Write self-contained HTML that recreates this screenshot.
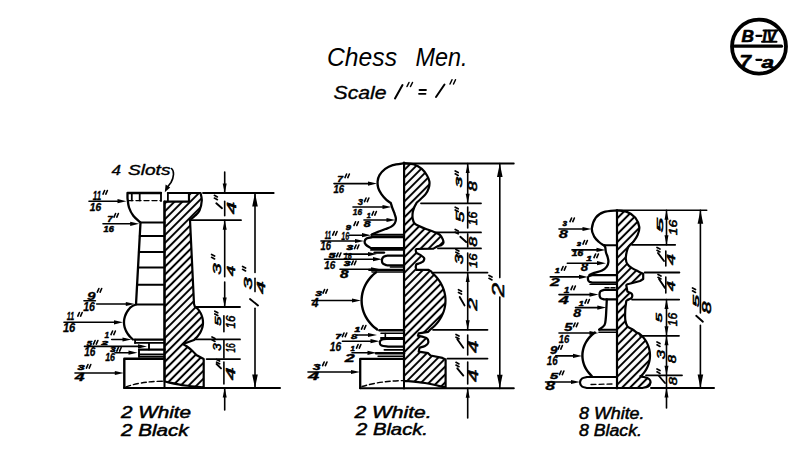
<!DOCTYPE html><html><head><meta charset="utf-8"><style>
html,body{margin:0;padding:0;background:#fff;width:800px;height:475px;overflow:hidden}
svg{display:block}
.t{font-family:"Liberation Sans",sans-serif;font-style:italic;font-weight:bold;fill:#000;stroke:#000;stroke-width:0.6}
.f{font-family:"Liberation Sans",sans-serif;font-style:italic;font-weight:bold;fill:#000;stroke:#000;stroke-width:0.25}
.fv{font-family:"Liberation Sans",sans-serif;font-style:italic;font-weight:normal;fill:#000;stroke:#000;stroke-width:0.55}
.ts{font-family:"Liberation Sans",sans-serif;font-style:italic;font-weight:normal;fill:#000;stroke:#000;stroke-width:0.35}
.ti{font-family:"Liberation Sans",sans-serif;font-style:italic;font-weight:normal;fill:#000;stroke:none}
.tl{font-family:"Liberation Sans",sans-serif;font-style:italic;font-weight:normal;fill:#000;stroke:#000;stroke-width:0.5}
</style></head><body>
<svg width="800" height="475" viewBox="0 0 800 475">
<defs><pattern id="h" patternUnits="userSpaceOnUse" width="5.6" height="5.6" patternTransform="rotate(-45)"><line x1="0" y1="2.8" x2="5.6" y2="2.8" stroke="#000" stroke-width="2.0"/></pattern></defs>
<rect width="800" height="475" fill="#fff"/>
<g stroke="#000" fill="none" stroke-linecap="round" stroke-linejoin="round">
<text class="ti" x="327" y="66" font-size="26.5" textLength="70" lengthAdjust="spacingAndGlyphs">Chess</text>
<text class="ti" x="415.5" y="66" font-size="26.5" textLength="52" lengthAdjust="spacingAndGlyphs">Men.</text>
<text class="ts" x="333.5" y="98.5" font-size="18.6" textLength="53" lengthAdjust="spacingAndGlyphs">Scale</text>
<line x1="402.5" y1="85" x2="395" y2="98.5" stroke-width="2"/>
<line x1="407" y1="86.5" x2="409" y2="82.5" stroke-width="1.5"/>
<line x1="410.5" y1="86.5" x2="412.5" y2="82.5" stroke-width="1.5"/>
<line x1="419.5" y1="90" x2="426" y2="90" stroke-width="1.8"/>
<line x1="419" y1="93.8" x2="425.5" y2="93.8" stroke-width="1.8"/>
<line x1="444.5" y1="84.5" x2="436" y2="97" stroke-width="2"/>
<line x1="450" y1="84" x2="452" y2="79.8" stroke-width="1.5"/>
<line x1="453.5" y1="84" x2="455.5" y2="79.8" stroke-width="1.5"/>
<ellipse cx="759" cy="46.6" rx="27" ry="27" stroke-width="3.8"/>
<line x1="734.5" y1="46.2" x2="781.5" y2="46.2" stroke-width="3.2"/>
<text class="t" x="741.5" y="42" font-size="16.2" textLength="12.5" lengthAdjust="spacingAndGlyphs">B</text>
<line x1="756.4" y1="35.8" x2="761.4" y2="35.8" stroke-width="2.2"/>
<text class="t" x="762.5" y="42" font-size="16" textLength="14" lengthAdjust="spacingAndGlyphs">IV</text>
<line x1="763.5" y1="30.6" x2="777.5" y2="30.6" stroke-width="2"/>
<line x1="762" y1="41.8" x2="776.5" y2="41.8" stroke-width="2"/>
<text class="t" x="739.5" y="68" font-size="19" textLength="11.5" lengthAdjust="spacingAndGlyphs">7</text>
<line x1="756.4" y1="59.8" x2="761.4" y2="59.8" stroke-width="2.2"/>
<text class="t" x="761.5" y="67.5" font-size="16" textLength="12.5" lengthAdjust="spacingAndGlyphs">a</text>
<path d="M164.5,201.6 L189,201.6 L189,193 L200.5,193 C200.72,194.25 201.97,197.58 201.8,200.5 C201.63,203.42 200.63,207.95 199.5,210.5 C198.37,213.05 196.58,214.25 195,215.8 C193.42,217.35 190.83,219.13 190,219.8 L194,304 L195,307 C196.38,307.4 197.52,308.59 198.18,309.42 C198.84,310.25 199.43,311.11 199.96,311.99 C200.49,312.86 200.95,313.76 201.35,314.67 C201.74,315.58 202.06,316.51 202.32,317.44 C202.57,318.37 202.76,319.32 202.87,320.27 C202.98,321.21 203.02,322.17 202.99,323.12 C202.96,324.07 202.86,325.02 202.68,325.97 C202.51,326.91 202.26,327.85 201.95,328.77 C201.63,329.7 201.25,330.61 200.79,331.51 C200.34,332.41 199.82,333.29 199.23,334.15 C198.65,335 198,335.84 197.29,336.65 C196.58,337.46 195.36,338.61 194.97,339 L194,340 L183,344 C183.67,344.42 185.42,345.33 187,346.5 C188.58,347.67 190.95,349.58 192.5,351 C194.05,352.42 195.67,354.33 196.3,355 L203.7,359 L203.7,387.3 C200.58,387 191.53,386.47 185,385.5 C178.47,384.53 167.92,382.17 164.5,381.5 Z" fill="url(#h)" stroke-width="2.2"/>
<line x1="167.9" y1="193" x2="167.9" y2="201.6" stroke-width="1.8"/>
<line x1="167.9" y1="193" x2="189" y2="193" stroke-width="2.2"/>
<line x1="164.5" y1="201.6" x2="164.5" y2="388" stroke-width="2"/>
<path d="M161,193 L127.5,193 L127.5,198 C127.75,199.58 128,204.5 129,207.5 C130,210.5 131.58,213.5 133.5,216 C135.42,218.5 139.33,221.42 140.5,222.5 L136,304.5 C132.57,305.42 131.16,306.65 130.35,307.52 C129.53,308.39 128.78,309.3 128.11,310.23 C127.44,311.16 126.85,312.12 126.34,313.09 C125.83,314.07 125.4,315.07 125.05,316.07 C124.71,317.08 124.44,318.11 124.27,319.14 C124.09,320.16 124,321.2 124,322.24 C124,323.27 124.08,324.31 124.25,325.34 C124.42,326.36 124.67,327.39 125.01,328.4 C125.35,329.41 125.77,330.41 126.27,331.39 C126.78,332.36 127.36,333.32 128.03,334.25 C128.69,335.18 129.43,336.1 130.24,336.97 C131.06,337.84 132.46,339.08 132.9,339.5" fill="none" stroke-width="2.3"/>
<line x1="161" y1="193" x2="161" y2="201" stroke-width="1.8"/>
<line x1="131.8" y1="193" x2="131.8" y2="200.4" stroke-width="1.8"/>
<line x1="139.7" y1="193" x2="139.7" y2="200.4" stroke-width="1.8"/>
<line x1="128" y1="200.6" x2="161" y2="200.6" stroke-width="1.4" stroke-dasharray="5 3"/>
<line x1="140.5" y1="222.5" x2="164.5" y2="222.5" stroke-width="2"/>
<line x1="139.76" y1="236" x2="164.5" y2="236" stroke-width="2"/>
<line x1="138.88" y1="252" x2="164.5" y2="252" stroke-width="2"/>
<line x1="138.04" y1="267.4" x2="164.5" y2="267.4" stroke-width="2"/>
<line x1="137.08" y1="284.8" x2="164.5" y2="284.8" stroke-width="2"/>
<line x1="136" y1="304.5" x2="164.5" y2="304.5" stroke-width="2"/>
<line x1="134.5" y1="339.6" x2="164.5" y2="339.6" stroke-width="2.3"/>
<line x1="135" y1="342.9" x2="164.5" y2="342.9" stroke-width="1.8"/>
<line x1="135.1" y1="339.6" x2="135.1" y2="342.9" stroke-width="1.8"/>
<line x1="149" y1="342.9" x2="149" y2="349.6" stroke-width="1.9"/>
<line x1="139" y1="349.6" x2="164.5" y2="349.6" stroke-width="2.1"/>
<line x1="139" y1="349.6" x2="139" y2="357" stroke-width="1.9"/>
<line x1="140" y1="354.4" x2="164.5" y2="354.4" stroke-width="1.7"/>
<line x1="140" y1="356.6" x2="164.5" y2="356.6" stroke-width="1.7"/>
<path d="M164.5,358.8 L124.3,358.8 L124.3,387.5" fill="none" stroke-width="2.4"/>
<path d="M126,386.8 Q142,381.2 164.5,381.2" fill="none" stroke-width="1.4" stroke-dasharray="5 3"/>
<line x1="124" y1="388" x2="280" y2="388" stroke-width="2"/>
<line x1="203" y1="193" x2="273.7" y2="193" stroke-width="1.8"/>
<line x1="190" y1="220.2" x2="241" y2="220.2" stroke-width="1.8"/>
<line x1="196" y1="307" x2="240" y2="307" stroke-width="1.8"/>
<line x1="195" y1="339.4" x2="240" y2="339.4" stroke-width="1.8"/>
<line x1="206.6" y1="359.1" x2="240" y2="359.1" stroke-width="1.8"/>
<line x1="224.7" y1="172" x2="224.7" y2="193" stroke-width="1.6"/>
<path d="M224.7,193 L222.7,183.5 L226.7,183.5 Z" fill="#000" stroke="none"/>
<line x1="224.7" y1="201.4" x2="224.7" y2="215.8" stroke-width="1.6"/>
<line x1="224.7" y1="220.2" x2="224.7" y2="276.8" stroke-width="1.6"/>
<path d="M224.7,220.2 L222.7,229.7 L226.7,229.7 Z" fill="#000" stroke="none"/>
<line x1="224.7" y1="282" x2="224.7" y2="307" stroke-width="1.6"/>
<path d="M224.7,307 L222.7,297.5 L226.7,297.5 Z" fill="#000" stroke="none"/>
<line x1="223.9" y1="315.7" x2="223.9" y2="331.8" stroke-width="1.6"/>
<line x1="223.9" y1="340" x2="223.9" y2="358" stroke-width="1.6"/>
<line x1="223.9" y1="362" x2="223.9" y2="384" stroke-width="1.6"/>
<line x1="224.7" y1="388" x2="224.7" y2="410" stroke-width="1.6"/>
<path d="M224.7,388 L222.7,397.5 L226.7,397.5 Z" fill="#000" stroke="none"/>
<line x1="216.3" y1="203.3" x2="222" y2="208.2" stroke-width="1.9"/>
<path d="M214.4,195.3 L217.4,196.9 M214.4,198.1 L217.4,199.7" stroke-width="1.7"/>
<text class="fv" transform="translate(235.7,214.24) rotate(-90)" x="0" y="0" font-size="12" textLength="12.36" lengthAdjust="spacingAndGlyphs">4</text>
<text class="fv" transform="translate(221.2,274.83) rotate(-90)" x="0" y="0" font-size="11.57" textLength="11.35" lengthAdjust="spacingAndGlyphs">3</text>
<path d="M211.6,254.5 L214.6,256.1 M211.6,257.3 L214.6,258.9" stroke-width="1.7"/>
<text class="fv" transform="translate(234.5,276.33) rotate(-90)" x="0" y="0" font-size="11.57" textLength="10.65" lengthAdjust="spacingAndGlyphs">4</text>
<text class="fv" transform="translate(221.1,325.68) rotate(-90)" x="0" y="0" font-size="9" textLength="9.17" lengthAdjust="spacingAndGlyphs">5</text>
<path d="M214.8,311.2 L217.8,312.8 M214.8,314 L217.8,315.6" stroke-width="1.7"/>
<text class="fv" transform="translate(234.5,328.46) rotate(-90)" x="0" y="0" font-size="12.86" textLength="12.89" lengthAdjust="spacingAndGlyphs">16</text>
<text class="fv" transform="translate(221,350.7) rotate(-90)" x="0" y="0" font-size="10.14" textLength="7.4" lengthAdjust="spacingAndGlyphs">3</text>
<path d="M212,337 L215,338.6 M212,339.8 L215,341.4" stroke-width="1.7"/>
<text class="fv" transform="translate(234.5,352.56) rotate(-90)" x="0" y="0" font-size="12.86" textLength="9.29" lengthAdjust="spacingAndGlyphs">16</text>
<line x1="216.6" y1="364" x2="221" y2="368.4" stroke-width="1.9"/>
<path d="M216.6,359.4 L219.6,361 M216.6,362.2 L219.6,363.8" stroke-width="1.7"/>
<text class="fv" transform="translate(234.5,380.26) rotate(-90)" x="0" y="0" font-size="12.86" textLength="12.89" lengthAdjust="spacingAndGlyphs">4</text>
<line x1="255" y1="193" x2="255" y2="272.4" stroke-width="1.6"/>
<path d="M255,193 L252.2,206.5 L257.8,206.5 Z" fill="#000" stroke="none"/>
<line x1="255" y1="278.3" x2="255" y2="291.6" stroke-width="1.6"/>
<line x1="255" y1="308.3" x2="255" y2="388" stroke-width="1.6"/>
<path d="M255,388 L252.2,374.5 L257.8,374.5 Z" fill="#000" stroke="none"/>
<path d="M242.6,266.5 L245.6,268.1 M242.6,269.3 L245.6,270.9" stroke-width="1.7"/>
<text class="fv" transform="translate(252.2,289.61) rotate(-90)" x="0" y="0" font-size="10.57" textLength="12.12" lengthAdjust="spacingAndGlyphs">3</text>
<text class="fv" transform="translate(265.4,294.03) rotate(-90)" x="0" y="0" font-size="11.57" textLength="12.85" lengthAdjust="spacingAndGlyphs">4</text>
<line x1="250" y1="299" x2="258" y2="305.5" stroke-width="1.9"/>
<text class="f" x="92.75" y="200" font-size="12.43" textLength="8.37" lengthAdjust="spacingAndGlyphs" style="stroke-width:0.3">11</text>
<text class="f" x="89.79" y="210.8" font-size="10.43" textLength="11.31" lengthAdjust="spacingAndGlyphs" style="stroke-width:0.37">16</text>
<path d="M103,194.1 L104.6,190.5 M105.8,194.1 L107.4,190.5" stroke-width="1.6"/>
<line x1="89" y1="201.2" x2="120.5" y2="201.2" stroke-width="1.6"/>
<path d="M126.5,201.2 L117.5,199.1 L117.5,203.3 Z" fill="#000" stroke="none"/>
<text class="f" x="107.22" y="221.8" font-size="9" textLength="5.47" lengthAdjust="spacingAndGlyphs" style="stroke-width:0.46">7</text>
<text class="f" x="103.53" y="231.8" font-size="8.29" textLength="10.25" lengthAdjust="spacingAndGlyphs" style="stroke-width:0.5">16</text>
<path d="M114,217.1 L115.6,213.5 M116.8,217.1 L118.4,213.5" stroke-width="1.6"/>
<line x1="103" y1="223.8" x2="133.2" y2="223.8" stroke-width="1.6"/>
<path d="M139.2,223.8 L130.2,221.7 L130.2,225.9 Z" fill="#000" stroke="none"/>
<text class="f" x="86.97" y="299.5" font-size="11.71" textLength="8.55" lengthAdjust="spacingAndGlyphs" style="stroke-width:0.3">9</text>
<text class="f" x="83.14" y="311" font-size="12.86" textLength="11.79" lengthAdjust="spacingAndGlyphs" style="stroke-width:0.3">16</text>
<path d="M97.3,292.1 L98.9,288.5 M100.1,292.1 L101.7,288.5" stroke-width="1.6"/>
<line x1="96.7" y1="304" x2="128.8" y2="304" stroke-width="1.6"/>
<path d="M134.8,304 L125.8,301.9 L125.8,306.1 Z" fill="#000" stroke="none"/>
<line x1="84" y1="300.8" x2="95.4" y2="300.8" stroke-width="1.6"/>
<text class="f" x="66.78" y="319.8" font-size="10.86" textLength="7.33" lengthAdjust="spacingAndGlyphs" style="stroke-width:0.35">11</text>
<text class="f" x="62.95" y="331.8" font-size="12.57" textLength="12.38" lengthAdjust="spacingAndGlyphs" style="stroke-width:0.3">16</text>
<path d="M77.8,316.1 L79.4,312.5 M80.6,316.1 L82.2,312.5" stroke-width="1.6"/>
<line x1="64" y1="322.3" x2="117" y2="322.3" stroke-width="1.6"/>
<path d="M123,322.3 L114,320.2 L114,324.4 Z" fill="#000" stroke="none"/>
<text class="f" x="104.62" y="337.6" font-size="9" textLength="4.67" lengthAdjust="spacingAndGlyphs" style="stroke-width:0.46">1</text>
<text class="f" x="101.48" y="344.8" font-size="6.14" textLength="6.48" lengthAdjust="spacingAndGlyphs" style="stroke-width:0.63">2</text>
<path d="M111,334.6 L112.6,331 M113.8,334.6 L115.4,331" stroke-width="1.6"/>
<line x1="111.7" y1="339.5" x2="125.5" y2="339.5" stroke-width="1.6"/>
<path d="M131.5,339.5 L122.5,337.4 L122.5,341.6 Z" fill="#000" stroke="none"/>
<text class="f" x="86.85" y="345.8" font-size="7.29" textLength="5.22" lengthAdjust="spacingAndGlyphs" style="stroke-width:0.56">5</text>
<text class="f" x="84.26" y="356" font-size="11.86" textLength="11.16" lengthAdjust="spacingAndGlyphs" style="stroke-width:0.3">16</text>
<path d="M93.5,344.1 L95.1,340.5 M96.3,344.1 L97.9,340.5" stroke-width="1.6"/>
<line x1="84.5" y1="346.4" x2="141" y2="346.4" stroke-width="1.6"/>
<path d="M147,346.4 L138,344.3 L138,348.5 Z" fill="#000" stroke="none"/>
<text class="f" x="110.27" y="352.1" font-size="6.29" textLength="5.29" lengthAdjust="spacingAndGlyphs" style="stroke-width:0.62">3</text>
<text class="f" x="105.18" y="361" font-size="10.86" textLength="9.83" lengthAdjust="spacingAndGlyphs" style="stroke-width:0.35">16</text>
<path d="M116.8,351.1 L118.4,347.5 M119.6,351.1 L121.2,347.5" stroke-width="1.6"/>
<line x1="114.9" y1="352.7" x2="131.5" y2="352.7" stroke-width="1.6"/>
<path d="M137.5,352.7 L128.5,350.6 L128.5,354.8 Z" fill="#000" stroke="none"/>
<text class="f" x="77.46" y="370.4" font-size="7.14" textLength="7.11" lengthAdjust="spacingAndGlyphs" style="stroke-width:0.57">3</text>
<text class="f" x="74.78" y="380.6" font-size="10.86" textLength="9.83" lengthAdjust="spacingAndGlyphs" style="stroke-width:0.35">4</text>
<path d="M86.4,368.1 L88,364.5 M89.2,368.1 L90.8,364.5" stroke-width="1.6"/>
<line x1="75" y1="373" x2="117.8" y2="373" stroke-width="1.6"/>
<path d="M123.8,373 L114.8,370.9 L114.8,375.1 Z" fill="#000" stroke="none"/>
<text class="ts" x="111.5" y="175.3" font-size="14.5" textLength="9.5" lengthAdjust="spacingAndGlyphs">4</text>
<text class="ts" x="128" y="175.3" font-size="14.5" textLength="42.5" lengthAdjust="spacingAndGlyphs">Slots</text>
<path d="M171.5,168.5 C174.5,171 174,177 171,182.5 L167.5,187" fill="none" stroke-width="1.6"/>
<path d="M164.8,192.2 L165.6,184.6 L170.2,187.6 Z" fill="#000" stroke="none"/>
<text class="tl" x="121" y="418" font-size="16" textLength="70" lengthAdjust="spacingAndGlyphs">2 White</text>
<text class="tl" x="121" y="435.5" font-size="16" textLength="67.5" lengthAdjust="spacingAndGlyphs">2 Black</text>
<path d="M404.1,163.2 C405.78,163.42 411.25,163.55 414.2,164.5 C417.15,165.45 419.68,167.12 421.8,168.9 C423.92,170.68 425.63,173.1 426.9,175.2 C428.17,177.3 429.08,179.38 429.4,181.5 C429.72,183.62 429.43,185.78 428.8,187.9 C428.17,190.02 426.98,192.32 425.6,194.2 C424.22,196.08 421.97,197.82 420.5,199.2 C419.03,200.58 417.42,201.95 416.8,202.5 C416.4,203.25 415.08,205.3 414.4,207 C413.72,208.7 412.98,210.78 412.7,212.7 C412.42,214.62 412.42,216.75 412.7,218.5 C412.98,220.25 413.35,221.95 414.4,223.2 C415.45,224.45 417.07,225.03 419,226 C420.93,226.97 423.48,228.02 426,229 C428.52,229.98 431.78,230.93 434.1,231.9 C436.42,232.87 438.45,233.55 439.9,234.8 C441.35,236.05 442.22,238.05 442.8,239.4 C443.38,240.75 443.68,241.93 443.4,242.9 C443.12,243.87 442.07,244.63 441.1,245.2 C440.13,245.77 438.87,245.73 437.6,246.3 C436.33,246.87 434.18,248.22 433.5,248.6 L416.3,249 L415.7,250.1 L416.3,252.9 C417.03,253.28 419.4,254.35 420.7,255.2 C422,256.05 423.62,257.07 424.1,258 C424.58,258.93 424.07,260.05 423.6,260.8 C423.13,261.55 422.15,262.03 421.3,262.5 C420.45,262.97 419.33,263.32 418.5,263.6 C417.67,263.88 416.67,264.1 416.3,264.2 L415.7,267 L416.3,269.8 L428.6,269.8 L431.5,271.7 C431.31,272.34 433.6,274.16 434.95,275.52 C436.3,276.88 437.55,278.35 438.66,279.87 C439.77,281.4 440.77,283.02 441.62,284.67 C442.47,286.33 443.2,288.06 443.78,289.81 C444.35,291.56 444.79,293.37 445.08,295.18 C445.37,296.98 445.51,298.83 445.5,300.66 C445.49,302.48 445.33,304.33 445.03,306.13 C444.73,307.94 444.27,309.75 443.68,311.49 C443.08,313.24 442.34,314.96 441.47,316.61 C440.61,318.26 439.59,319.87 438.47,321.39 C437.34,322.9 436.08,324.36 434.72,325.71 C433.36,327.07 431.05,328.87 430.31,329.5 L428.2,331.8 L418.7,333.4 L417.9,335.8 C419.35,336.2 424.88,337.02 426.6,338.2 C428.32,339.38 428.47,341.6 428.2,342.9 C427.93,344.2 426.45,345.22 425,346 C423.55,346.78 420.42,347.33 419.5,347.6 L418.7,351.6 L428.2,353.2 L430.5,355.5 L442.4,357.9 L445.6,359.5 L445.6,387.5 C442.17,386.75 431.93,384.12 425,383 C418.07,381.88 407.5,381.17 404,380.8 Z" fill="url(#h)" stroke-width="2.2"/>
<line x1="404" y1="162.5" x2="404" y2="388.5" stroke-width="2"/>
<path d="M404.1,163.2 C402.2,163.52 395.85,164.15 392.7,165.1 C389.55,166.05 387.4,167.22 385.2,168.9 C383,170.58 380.77,173.1 379.5,175.2 C378.23,177.3 377.82,179.38 377.6,181.5 C377.38,183.62 377.57,185.78 378.2,187.9 C378.83,190.02 380.03,192.2 381.4,194.2 C382.77,196.2 384.83,198.43 386.4,199.9 C387.97,201.37 390.07,202.48 390.8,203 C391.07,203.85 391.83,206.48 392.4,208.1 C392.97,209.72 393.62,210.97 394.2,212.7 C394.78,214.43 395.8,216.75 395.9,218.5 C396,220.25 395.57,221.85 394.8,223.2 C394.03,224.55 392.85,225.63 391.3,226.6 C389.75,227.57 387.43,228.22 385.5,229 C383.57,229.78 381.63,230.53 379.7,231.3 C377.77,232.07 375.25,233.02 373.9,233.6 C372.55,234.18 371.98,234.6 371.6,234.8" fill="none" stroke-width="2.3"/>
<line x1="371.6" y1="234.8" x2="404" y2="234.8" stroke-width="2"/>
<path d="M404,237 L373,237 C371.92,237.25 367.9,237.72 366.5,238.5 C365.1,239.28 364.72,240.68 364.6,241.7 C364.48,242.72 364.83,243.58 365.8,244.6 C366.77,245.62 369.63,247.27 370.4,247.8 L404,248.2" fill="none" stroke-width="2.3"/>
<line x1="371" y1="249.9" x2="404" y2="249.9" stroke-width="1.8"/>
<line x1="374.6" y1="252.6" x2="384" y2="252.6" stroke-width="2.4"/>
<path d="M404,255.7 L387,255.7 C386.33,255.97 383.85,256.5 383,257.3 C382.15,258.1 381.9,259.43 381.9,260.5 C381.9,261.57 382.15,262.9 383,263.7 C383.85,264.5 386.33,265.03 387,265.3 L404,265.3" fill="none" stroke-width="2.3"/>
<line x1="390.4" y1="267" x2="404" y2="267" stroke-width="1.6"/>
<line x1="369" y1="269.8" x2="404" y2="269.8" stroke-width="2.2"/>
<line x1="372" y1="272" x2="404" y2="272" stroke-width="1.4"/>
<path d="M376.05,272.3 C375.33,272.94 373.07,274.79 371.75,276.16 C370.43,277.53 369.2,279 368.12,280.52 C367.03,282.04 366.06,283.65 365.24,285.3 C364.41,286.95 363.72,288.67 363.17,290.4 C362.62,292.13 362.21,293.92 361.95,295.71 C361.69,297.5 361.57,299.32 361.61,301.12 C361.64,302.92 361.82,304.74 362.15,306.51 C362.48,308.29 362.95,310.07 363.57,311.79 C364.18,313.5 364.94,315.2 365.83,316.82 C366.71,318.44 367.74,320.02 368.88,321.52 C370.03,323.01 371.3,324.44 372.67,325.77 C374.05,327.1 376.38,328.88 377.12,329.5" fill="none" stroke-width="2.4"/>
<line x1="379.4" y1="330.2" x2="404" y2="330.2" stroke-width="2.4"/>
<line x1="381" y1="333.2" x2="404" y2="333.2" stroke-width="1.6"/>
<line x1="385.3" y1="333.5" x2="385.3" y2="338" stroke-width="1.6"/>
<line x1="381" y1="338" x2="404" y2="338" stroke-width="2"/>
<path d="M404,338.8 L388,338.8 C386.92,338.97 382.87,339.15 381.5,339.8 C380.13,340.45 379.8,341.73 379.8,342.7 C379.8,343.67 380.13,344.95 381.5,345.6 C382.87,346.25 386.92,346.43 388,346.6 L404,346.6" fill="none" stroke-width="2.2"/>
<line x1="384.4" y1="349.8" x2="404" y2="349.8" stroke-width="1.8"/>
<line x1="376" y1="353.3" x2="404" y2="353.3" stroke-width="2.4"/>
<line x1="378" y1="356.2" x2="404" y2="356.2" stroke-width="1.4"/>
<path d="M404,358.9 L360.2,358.9 L360.2,388" fill="none" stroke-width="2.3"/>
<path d="M362,386.5 Q380,381 404,380.6" fill="none" stroke-width="1.4" stroke-dasharray="5 3"/>
<line x1="360" y1="388.2" x2="513.8" y2="388.2" stroke-width="2"/>
<line x1="404" y1="163.5" x2="513.8" y2="163.5" stroke-width="1.8"/>
<line x1="421" y1="203.3" x2="481" y2="203.3" stroke-width="1.8"/>
<line x1="437" y1="232.4" x2="481" y2="232.4" stroke-width="1.8"/>
<line x1="438" y1="248.4" x2="481" y2="248.4" stroke-width="1.8"/>
<line x1="433.3" y1="272.6" x2="487.5" y2="272.6" stroke-width="1.8"/>
<line x1="433" y1="329.8" x2="487.5" y2="329.8" stroke-width="1.8"/>
<line x1="447.4" y1="358.6" x2="487.5" y2="358.6" stroke-width="1.8"/>
<line x1="467.7" y1="163.5" x2="467.7" y2="203.3" stroke-width="1.6"/>
<path d="M467.7,163.5 L465.7,173 L469.7,173 Z" fill="#000" stroke="none"/>
<path d="M467.7,203.3 L465.7,193.8 L469.7,193.8 Z" fill="#000" stroke="none"/>
<line x1="467.7" y1="207" x2="467.7" y2="228" stroke-width="1.6"/>
<line x1="467.7" y1="233.9" x2="467.7" y2="247.1" stroke-width="1.6"/>
<line x1="467.7" y1="253" x2="467.7" y2="270.8" stroke-width="1.6"/>
<line x1="467.7" y1="272.6" x2="467.7" y2="329.8" stroke-width="1.6"/>
<path d="M467.7,272.6 L465.7,282.1 L469.7,282.1 Z" fill="#000" stroke="none"/>
<path d="M467.7,329.8 L465.7,320.3 L469.7,320.3 Z" fill="#000" stroke="none"/>
<line x1="467.7" y1="335" x2="467.7" y2="355" stroke-width="1.6"/>
<line x1="467.7" y1="362" x2="467.7" y2="384" stroke-width="1.6"/>
<line x1="467.7" y1="388.2" x2="467.7" y2="418" stroke-width="1.6"/>
<path d="M467.7,388.2 L465.7,397.7 L469.7,397.7 Z" fill="#000" stroke="none"/>
<text class="fv" transform="translate(461.8,187.47) rotate(-90)" x="0" y="0" font-size="8.43" textLength="10.55" lengthAdjust="spacingAndGlyphs">3</text>
<path d="M455.2,171 L458.2,172.6 M455.2,173.8 L458.2,175.4" stroke-width="1.7"/>
<text class="fv" transform="translate(477.3,191.25) rotate(-90)" x="0" y="0" font-size="12.57" textLength="9.98" lengthAdjust="spacingAndGlyphs">8</text>
<text class="fv" transform="translate(464,222.21) rotate(-90)" x="0" y="0" font-size="10.57" textLength="10.62" lengthAdjust="spacingAndGlyphs">5</text>
<path d="M455.2,207.2 L458.2,208.8 M455.2,210 L458.2,211.6" stroke-width="1.7"/>
<text class="fv" transform="translate(477.3,225.24) rotate(-90)" x="0" y="0" font-size="11.86" textLength="13.66" lengthAdjust="spacingAndGlyphs">16</text>
<line x1="460.3" y1="236.8" x2="466.2" y2="242" stroke-width="1.9"/>
<path d="M455.2,229.4 L458.2,231 M455.2,232.2 L458.2,233.8" stroke-width="1.7"/>
<text class="fv" transform="translate(477.3,246.63) rotate(-90)" x="0" y="0" font-size="11.57" textLength="9.95" lengthAdjust="spacingAndGlyphs">8</text>
<text class="fv" transform="translate(463.3,264.31) rotate(-90)" x="0" y="0" font-size="10.57" textLength="9.92" lengthAdjust="spacingAndGlyphs">3</text>
<path d="M455.9,249.4 L458.9,251 M455.9,252.2 L458.9,253.8" stroke-width="1.7"/>
<text class="fv" transform="translate(477.3,268.03) rotate(-90)" x="0" y="0" font-size="11.57" textLength="14.35" lengthAdjust="spacingAndGlyphs">16</text>
<line x1="459.7" y1="297" x2="464.5" y2="305.4" stroke-width="1.9"/>
<path d="M458.5,289.7 L461.5,291.3 M458.5,292.5 L461.5,294.1" stroke-width="1.7"/>
<text class="fv" transform="translate(476.6,310.44) rotate(-90)" x="0" y="0" font-size="12.14" textLength="12.46" lengthAdjust="spacingAndGlyphs">2</text>
<line x1="457.3" y1="339.3" x2="463.3" y2="347.7" stroke-width="1.9"/>
<path d="M456,334.4 L459,336 M456,337.2 L459,338.8" stroke-width="1.7"/>
<text class="fv" transform="translate(477.8,352.88) rotate(-90)" x="0" y="0" font-size="13.86" textLength="12.52" lengthAdjust="spacingAndGlyphs">4</text>
<line x1="457.3" y1="368.3" x2="463.3" y2="375.6" stroke-width="1.9"/>
<path d="M456,362.3 L459,363.9 M456,365.1 L459,366.7" stroke-width="1.7"/>
<text class="fv" transform="translate(477.8,381.88) rotate(-90)" x="0" y="0" font-size="13.86" textLength="12.52" lengthAdjust="spacingAndGlyphs">4</text>
<line x1="499.8" y1="163.5" x2="499.8" y2="277.6" stroke-width="1.6"/>
<path d="M499.8,163.5 L497,177 L502.6,177 Z" fill="#000" stroke="none"/>
<line x1="499.8" y1="297.1" x2="499.8" y2="388.5" stroke-width="1.6"/>
<path d="M499.8,388.2 L497,374.7 L502.6,374.7 Z" fill="#000" stroke="none"/>
<path d="M489,275.5 L492,277.1 M489,278.3 L492,279.9" stroke-width="1.7"/>
<text class="fv" transform="translate(503.7,296.93) rotate(-90)" x="0" y="0" font-size="16.57" textLength="14.2" lengthAdjust="spacingAndGlyphs">2</text>
<text class="f" x="337.31" y="182" font-size="9.43" textLength="5.78" lengthAdjust="spacingAndGlyphs" style="stroke-width:0.43">7</text>
<text class="f" x="333.49" y="192.5" font-size="10.71" textLength="10.62" lengthAdjust="spacingAndGlyphs" style="stroke-width:0.36">16</text>
<path d="M345,177.6 L346.6,174 M347.8,177.6 L349.4,174" stroke-width="1.6"/>
<line x1="334" y1="183.6" x2="371" y2="183.6" stroke-width="1.6"/>
<path d="M377,183.6 L368,181.5 L368,185.7 Z" fill="#000" stroke="none"/>
<text class="f" x="357.82" y="205" font-size="9" textLength="5.27" lengthAdjust="spacingAndGlyphs" style="stroke-width:0.46">3</text>
<text class="f" x="352.81" y="214.6" font-size="9.43" textLength="9.28" lengthAdjust="spacingAndGlyphs" style="stroke-width:0.43">16</text>
<path d="M364.5,201.6 L366.1,198 M367.3,201.6 L368.9,198" stroke-width="1.6"/>
<line x1="353" y1="207" x2="385.5" y2="207" stroke-width="1.6"/>
<path d="M391.5,207 L382.5,204.9 L382.5,209.1 Z" fill="#000" stroke="none"/>
<text class="f" x="366.64" y="218" font-size="8" textLength="4.04" lengthAdjust="spacingAndGlyphs" style="stroke-width:0.52">1</text>
<text class="f" x="363.83" y="226.6" font-size="8.71" textLength="6.86" lengthAdjust="spacingAndGlyphs" style="stroke-width:0.48">8</text>
<path d="M372,215.1 L373.6,211.5 M374.8,215.1 L376.4,211.5" stroke-width="1.6"/>
<line x1="364" y1="220" x2="389.5" y2="220" stroke-width="1.6"/>
<path d="M395.5,220 L386.5,217.9 L386.5,222.1 Z" fill="#000" stroke="none"/>
<text class="f" x="345.85" y="229.5" font-size="7.29" textLength="5.22" lengthAdjust="spacingAndGlyphs" style="stroke-width:0.56">9</text>
<text class="f" x="341.27" y="240.2" font-size="11.71" textLength="7.85" lengthAdjust="spacingAndGlyphs" style="stroke-width:0.3">16</text>
<path d="M354,225.4 L355.6,221.8 M356.8,225.4 L358.4,221.8" stroke-width="1.6"/>
<line x1="349" y1="235.2" x2="365" y2="235.2" stroke-width="1.6"/>
<path d="M371,235.2 L362,233.1 L362,237.3 Z" fill="#000" stroke="none"/>
<text class="f" x="324.8" y="239" font-size="10" textLength="6.1" lengthAdjust="spacingAndGlyphs" style="stroke-width:0.4">11</text>
<text class="f" x="320.46" y="250.3" font-size="11.86" textLength="10.46" lengthAdjust="spacingAndGlyphs" style="stroke-width:0.3">16</text>
<path d="M332.7,235.1 L334.3,231.5 M335.5,235.1 L337.1,231.5" stroke-width="1.6"/>
<line x1="321" y1="241" x2="358" y2="241" stroke-width="1.6"/>
<path d="M364,241 L355,238.9 L355,243.1 Z" fill="#000" stroke="none"/>
<text class="f" x="346.47" y="249.7" font-size="6.29" textLength="6.49" lengthAdjust="spacingAndGlyphs" style="stroke-width:0.62">3</text>
<text class="f" x="343.8" y="258.5" font-size="9.86" textLength="7.9" lengthAdjust="spacingAndGlyphs" style="stroke-width:0.41">16</text>
<path d="M354.5,248.6 L356.1,245 M357.3,248.6 L358.9,245" stroke-width="1.6"/>
<line x1="344" y1="254.1" x2="371" y2="254.1" stroke-width="1.6"/>
<path d="M377,254.1 L368,252 L368,256.2 Z" fill="#000" stroke="none"/>
<text class="f" x="328.77" y="257.9" font-size="6.29" textLength="6.49" lengthAdjust="spacingAndGlyphs" style="stroke-width:0.62">5</text>
<text class="f" x="324.27" y="268.6" font-size="11.71" textLength="11.05" lengthAdjust="spacingAndGlyphs" style="stroke-width:0.3">16</text>
<path d="M336.5,256.6 L338.1,253 M339.3,256.6 L340.9,253" stroke-width="1.6"/>
<line x1="324.5" y1="259.2" x2="376" y2="259.2" stroke-width="1.6"/>
<path d="M382,259.2 L373,257.1 L373,261.3 Z" fill="#000" stroke="none"/>
<text class="f" x="343.87" y="265.5" font-size="6.43" textLength="6.59" lengthAdjust="spacingAndGlyphs" style="stroke-width:0.61">3</text>
<text class="f" x="340.1" y="277.5" font-size="10" textLength="8.5" lengthAdjust="spacingAndGlyphs" style="stroke-width:0.4">8</text>
<path d="M351.6,264.6 L353.2,261 M354.4,264.6 L356,261" stroke-width="1.6"/>
<line x1="340" y1="269.3" x2="374" y2="269.3" stroke-width="1.6"/>
<path d="M380,269.3 L371,267.2 L371,271.4 Z" fill="#000" stroke="none"/>
<text class="f" x="315.34" y="296" font-size="7.86" textLength="6.74" lengthAdjust="spacingAndGlyphs" style="stroke-width:0.53">3</text>
<text class="f" x="311.73" y="306.8" font-size="13.43" textLength="6.8" lengthAdjust="spacingAndGlyphs" style="stroke-width:0.3">4</text>
<path d="M323,293.1 L324.6,289.5 M325.8,293.1 L327.4,289.5" stroke-width="1.6"/>
<line x1="312" y1="300.5" x2="355" y2="300.5" stroke-width="1.6"/>
<path d="M361,300.5 L352,298.4 L352,302.6 Z" fill="#000" stroke="none"/>
<text class="f" x="354.56" y="332.3" font-size="6.86" textLength="5.71" lengthAdjust="spacingAndGlyphs" style="stroke-width:0.59">1</text>
<text class="f" x="351.14" y="338.5" font-size="7.86" textLength="6.34" lengthAdjust="spacingAndGlyphs" style="stroke-width:0.53">8</text>
<path d="M361.5,329.1 L363.1,325.5 M364.3,329.1 L365.9,325.5" stroke-width="1.6"/>
<line x1="357.4" y1="335" x2="371" y2="335" stroke-width="1.6"/>
<path d="M377,335 L368,332.9 L368,337.1 Z" fill="#000" stroke="none"/>
<text class="f" x="335.46" y="338.5" font-size="6.86" textLength="5.61" lengthAdjust="spacingAndGlyphs" style="stroke-width:0.59">7</text>
<text class="f" x="329.75" y="350.8" font-size="12.71" textLength="11.38" lengthAdjust="spacingAndGlyphs" style="stroke-width:0.3">16</text>
<path d="M342.4,336.6 L344,333 M345.2,336.6 L346.8,333" stroke-width="1.6"/>
<line x1="342.4" y1="341.2" x2="373.5" y2="341.2" stroke-width="1.6"/>
<path d="M379.5,341.2 L370.5,339.1 L370.5,343.3 Z" fill="#000" stroke="none"/>
<text class="f" x="350.44" y="350.8" font-size="7.86" textLength="4.34" lengthAdjust="spacingAndGlyphs" style="stroke-width:0.53">1</text>
<text class="f" x="344.89" y="361.7" font-size="10.71" textLength="9.92" lengthAdjust="spacingAndGlyphs" style="stroke-width:0.36">2</text>
<path d="M356.5,348.1 L358.1,344.5 M359.3,348.1 L360.9,344.5" stroke-width="1.6"/>
<line x1="352" y1="352.8" x2="370.5" y2="352.8" stroke-width="1.6"/>
<path d="M376.5,352.8 L367.5,350.7 L367.5,354.9 Z" fill="#000" stroke="none"/>
<text class="f" x="312.82" y="370" font-size="8.86" textLength="7.77" lengthAdjust="spacingAndGlyphs" style="stroke-width:0.47">3</text>
<text class="f" x="307.99" y="380.2" font-size="10.71" textLength="11.22" lengthAdjust="spacingAndGlyphs" style="stroke-width:0.36">4</text>
<path d="M322.6,365.6 L324.2,362 M325.4,365.6 L327,362" stroke-width="1.6"/>
<line x1="308" y1="372" x2="354" y2="372" stroke-width="1.6"/>
<path d="M360,372 L351,369.9 L351,374.1 Z" fill="#000" stroke="none"/>
<text class="tl" x="354.5" y="418" font-size="16.5" textLength="77" lengthAdjust="spacingAndGlyphs">2 White.</text>
<text class="tl" x="356" y="435" font-size="16.5" textLength="72" lengthAdjust="spacingAndGlyphs">2 Black.</text>
<path d="M617,210.5 C618.73,210.77 624.35,210.92 627.4,212.1 C630.45,213.28 633.32,215.12 635.3,217.6 C637.28,220.08 638.92,224.1 639.3,227 C639.68,229.9 638.53,232.62 637.6,235 C636.67,237.38 634.88,239.72 633.7,241.3 C632.52,242.88 631.03,243.97 630.5,244.5 C630.1,245.02 628.75,246.28 628.1,247.6 C627.45,248.92 626.98,250.55 626.6,252.4 C626.22,254.25 625.67,256.73 625.8,258.7 C625.93,260.67 626.37,262.62 627.4,264.2 C628.43,265.78 630.17,267 632,268.2 C633.83,269.4 636.53,270.48 638.4,271.4 C640.27,272.32 642.4,273.32 643.2,273.7 L643.2,279 L640,281 L631.6,283.2 L627.4,284.2 L626.3,285.3 L627.4,291.6 C628.1,291.95 630.9,292.65 631.6,293.7 C632.3,294.75 632.3,296.85 631.6,297.9 C630.9,298.95 628.1,299.65 627.4,300 L626.3,301 C626.13,302.42 625.47,306.33 625.3,309.5 C625.13,312.67 624.95,317.2 625.3,320 C625.65,322.8 626.18,324.72 627.4,326.3 C628.62,327.88 631.03,328.45 632.6,329.5 C634.17,330.55 636.1,332.08 636.8,332.6 C638.85,333.07 640.52,334.42 641.52,335.42 C642.51,336.42 643.43,337.49 644.27,338.6 C645.1,339.71 645.86,340.89 646.52,342.09 C647.18,343.3 647.76,344.56 648.24,345.83 C648.72,347.1 649.1,348.42 649.39,349.74 C649.67,351.06 649.86,352.41 649.94,353.76 C650.03,355.1 650.02,356.47 649.9,357.81 C649.79,359.15 649.57,360.5 649.26,361.81 C648.95,363.13 648.54,364.44 648.03,365.71 C647.53,366.97 646.92,368.22 646.24,369.41 C645.55,370.6 644.77,371.77 643.91,372.86 C643.05,373.96 641.56,375.48 641.09,376 C639,376.17 642.17,376.5 644,377 C645.83,377.5 647.92,378.08 649,379 C650.08,379.92 650.67,381.25 650.5,382.5 C650.33,383.75 649.42,385.58 648,386.5 C646.58,387.42 643,387.75 642,388 L617,388 Z" fill="url(#h)" stroke-width="2.2"/>
<line x1="617" y1="210.6" x2="617" y2="388.5" stroke-width="2"/>
<path d="M617,210.5 C614.78,210.77 607.23,210.92 603.7,212.1 C600.17,213.28 597.78,214.83 595.8,217.6 C593.82,220.37 592.07,225.53 591.8,228.7 C591.53,231.87 593,234.38 594.2,236.6 C595.4,238.82 597.42,240.55 599,242 C600.58,243.45 602.92,244.75 603.7,245.3" fill="none" stroke-width="2.3"/>
<line x1="603.7" y1="245.3" x2="617" y2="245.3" stroke-width="2"/>
<path d="M604.5,245.3 C604.63,245.68 605.05,246.42 605.3,247.6 C605.55,248.78 605.62,250.83 606,252.4 C606.38,253.97 607.2,255.43 607.6,257 C608,258.57 608.53,260.2 608.4,261.8 C608.27,263.4 607.87,265.15 606.8,266.6 C605.73,268.05 604.1,269.45 602,270.5 C599.9,271.55 596.28,272.18 594.2,272.9 C592.12,273.62 590.28,274.48 589.5,274.8" fill="none" stroke-width="2.3"/>
<path d="M617,275.2 L592,275.2 C591.42,275.42 589.18,275.9 588.5,276.5 C587.82,277.1 587.82,277.97 587.9,278.8 C587.98,279.63 588.32,280.87 589,281.5 C589.68,282.13 591.5,282.42 592,282.6 L617,282.6" fill="none" stroke-width="2.3"/>
<line x1="590" y1="284.4" x2="617" y2="284.4" stroke-width="1.4"/>
<line x1="605" y1="287.8" x2="617" y2="287.8" stroke-width="1.4" stroke-dasharray="4 2"/>
<path d="M617,289.9 L604,289.9 C603.42,290.13 601.25,290.52 600.5,291.3 C599.75,292.08 599.5,293.48 599.5,294.6 C599.5,295.72 599.75,297.2 600.5,298 C601.25,298.8 603.42,299.17 604,299.4 L617,299.4" fill="none" stroke-width="2.3"/>
<path d="M606.8,299.4 C606.72,301.17 606.47,306.9 606.3,310 C606.13,313.1 606.1,315.5 605.8,318 C605.5,320.5 605.58,323.07 604.5,325 C603.42,326.93 600.17,328.83 599.3,329.6" fill="none" stroke-width="2.3"/>
<line x1="599" y1="329.8" x2="617" y2="329.8" stroke-width="2"/>
<line x1="599" y1="332.2" x2="617" y2="332.2" stroke-width="1.6"/>
<path d="M594.79,332.5 C594.22,332.97 592.45,334.31 591.41,335.31 C590.36,336.31 589.38,337.38 588.5,338.5 C587.61,339.61 586.81,340.78 586.11,341.99 C585.41,343.2 584.79,344.45 584.29,345.73 C583.78,347.01 583.37,348.33 583.06,349.65 C582.76,350.98 582.56,352.33 582.46,353.68 C582.37,355.03 582.38,356.4 582.5,357.74 C582.61,359.09 582.84,360.44 583.16,361.76 C583.49,363.08 583.92,364.4 584.45,365.67 C584.98,366.94 585.61,368.19 586.33,369.39 C587.05,370.59 587.87,371.75 588.78,372.85 C589.68,373.96 591.24,375.48 591.74,376" fill="none" stroke-width="2.4"/>
<path d="M617,377 L587,377 C586.17,377.25 583.17,377.58 582,378.5 C580.83,379.42 580,381.17 580,382.5 C580,383.83 580.83,385.58 582,386.5 C583.17,387.42 586.17,387.75 587,388 L617,388" fill="none" stroke-width="2.2"/>
<line x1="591" y1="384.5" x2="612" y2="384" stroke-width="1.3" stroke-dasharray="5 3"/>
<line x1="651" y1="388" x2="714" y2="388" stroke-width="2"/>
<line x1="617" y1="210.3" x2="706.7" y2="210.3" stroke-width="1.6"/>
<line x1="632" y1="244.8" x2="675.2" y2="244.8" stroke-width="1.8"/>
<line x1="644.7" y1="272.5" x2="679.4" y2="272.5" stroke-width="1.8"/>
<line x1="632" y1="299.6" x2="679.2" y2="299.6" stroke-width="1.8"/>
<line x1="640" y1="335.8" x2="679" y2="335.8" stroke-width="1.8"/>
<line x1="646" y1="375.3" x2="682" y2="375.3" stroke-width="1.8"/>
<line x1="666.5" y1="210.3" x2="666.5" y2="244.8" stroke-width="1.6"/>
<path d="M666.5,210.3 L664.5,219.8 L668.5,219.8 Z" fill="#000" stroke="none"/>
<path d="M666.5,244.8 L664.5,235.3 L668.5,235.3 Z" fill="#000" stroke="none"/>
<line x1="665.8" y1="251" x2="665.8" y2="266" stroke-width="1.6"/>
<line x1="665.8" y1="277" x2="665.8" y2="293" stroke-width="1.6"/>
<line x1="666.5" y1="299.6" x2="666.5" y2="335.8" stroke-width="1.6"/>
<path d="M666.5,299.6 L664.5,309.1 L668.5,309.1 Z" fill="#000" stroke="none"/>
<path d="M666.5,335.8 L664.5,326.3 L668.5,326.3 Z" fill="#000" stroke="none"/>
<line x1="666.5" y1="335.8" x2="666.5" y2="375.3" stroke-width="1.6"/>
<path d="M666.5,335.8 L664.5,345.3 L668.5,345.3 Z" fill="#000" stroke="none"/>
<path d="M666.5,375.3 L664.5,365.8 L668.5,365.8 Z" fill="#000" stroke="none"/>
<line x1="666.5" y1="376" x2="666.5" y2="388" stroke-width="1.6"/>
<line x1="666.5" y1="388" x2="666.5" y2="408" stroke-width="1.6"/>
<path d="M666.5,388 L664.5,397.5 L668.5,397.5 Z" fill="#000" stroke="none"/>
<text class="fv" transform="translate(663,232.17) rotate(-90)" x="0" y="0" font-size="8.57" textLength="14.26" lengthAdjust="spacingAndGlyphs">5</text>
<text class="fv" transform="translate(677,235.23) rotate(-90)" x="0" y="0" font-size="11.43" textLength="15.34" lengthAdjust="spacingAndGlyphs">16</text>
<line x1="658" y1="253" x2="664" y2="261" stroke-width="1.9"/>
<path d="M657,247.5 L660,249.1 M657,250.3 L660,251.9" stroke-width="1.7"/>
<text class="fv" transform="translate(675,265.23) rotate(-90)" x="0" y="0" font-size="11.43" textLength="11.34" lengthAdjust="spacingAndGlyphs">4</text>
<line x1="659" y1="279" x2="665" y2="288" stroke-width="1.9"/>
<path d="M658,274.5 L661,276.1 M658,277.3 L661,278.9" stroke-width="1.7"/>
<text class="fv" transform="translate(675,291.23) rotate(-90)" x="0" y="0" font-size="11.43" textLength="10.34" lengthAdjust="spacingAndGlyphs">4</text>
<text class="fv" transform="translate(662,322.17) rotate(-90)" x="0" y="0" font-size="8.57" textLength="9.26" lengthAdjust="spacingAndGlyphs">5</text>
<text class="fv" transform="translate(677,326.26) rotate(-90)" x="0" y="0" font-size="12.86" textLength="13.39" lengthAdjust="spacingAndGlyphs">16</text>
<text class="fv" transform="translate(665,359.2) rotate(-90)" x="0" y="0" font-size="10" textLength="9.3" lengthAdjust="spacingAndGlyphs">3</text>
<path d="M657,342 L660,343.6 M657,344.8 L660,346.4" stroke-width="1.7"/>
<text class="fv" transform="translate(676,363.2) rotate(-90)" x="0" y="0" font-size="10" textLength="8.3" lengthAdjust="spacingAndGlyphs">8</text>
<line x1="659" y1="376" x2="665" y2="383" stroke-width="1.9"/>
<path d="M657,369 L660,370.6 M657,371.8 L660,373.4" stroke-width="1.7"/>
<text class="fv" transform="translate(677,385.23) rotate(-90)" x="0" y="0" font-size="11.43" textLength="8.34" lengthAdjust="spacingAndGlyphs">8</text>
<line x1="700.4" y1="210.3" x2="700.4" y2="313" stroke-width="1.6"/>
<path d="M700.4,210.3 L697.6,223.8 L703.2,223.8 Z" fill="#000" stroke="none"/>
<line x1="700.4" y1="325.4" x2="700.4" y2="388" stroke-width="1.6"/>
<path d="M700.4,388 L697.6,374.5 L703.2,374.5 Z" fill="#000" stroke="none"/>
<path d="M692.5,288 L695.5,289.6 M692.5,290.8 L695.5,292.4" stroke-width="1.7"/>
<text class="fv" transform="translate(699.2,307.19) rotate(-90)" x="0" y="0" font-size="9.57" textLength="12.29" lengthAdjust="spacingAndGlyphs">5</text>
<text class="fv" transform="translate(711,313.76) rotate(-90)" x="0" y="0" font-size="12.86" textLength="12.19" lengthAdjust="spacingAndGlyphs">8</text>
<line x1="696.2" y1="315.8" x2="702.9" y2="321.7" stroke-width="1.9"/>
<text class="f" x="562.55" y="225.9" font-size="7.29" textLength="4.52" lengthAdjust="spacingAndGlyphs" style="stroke-width:0.56">3</text>
<text class="f" x="558.67" y="237.9" font-size="11.71" textLength="9.15" lengthAdjust="spacingAndGlyphs" style="stroke-width:0.3">8</text>
<path d="M570,221.6 L571.6,218 M572.8,221.6 L574.4,218" stroke-width="1.6"/>
<line x1="559" y1="229" x2="585.5" y2="229" stroke-width="1.6"/>
<path d="M591.5,229 L582.5,226.9 L582.5,231.1 Z" fill="#000" stroke="none"/>
<text class="f" x="576.88" y="246" font-size="6.14" textLength="4.18" lengthAdjust="spacingAndGlyphs" style="stroke-width:0.63">3</text>
<text class="f" x="571.84" y="256.2" font-size="8.14" textLength="11.24" lengthAdjust="spacingAndGlyphs" style="stroke-width:0.51">16</text>
<path d="M583,244.1 L584.6,240.5 M585.8,244.1 L587.4,240.5" stroke-width="1.6"/>
<line x1="572" y1="249.9" x2="599.5" y2="249.9" stroke-width="1.6"/>
<path d="M605.5,249.9 L596.5,247.8 L596.5,252 Z" fill="#000" stroke="none"/>
<text class="f" x="586.34" y="260.5" font-size="7.86" textLength="5.74" lengthAdjust="spacingAndGlyphs" style="stroke-width:0.53">1</text>
<text class="f" x="580.79" y="270.7" font-size="10.71" textLength="7.32" lengthAdjust="spacingAndGlyphs" style="stroke-width:0.36">8</text>
<path d="M594,257.6 L595.6,254 M596.8,257.6 L598.4,254" stroke-width="1.6"/>
<line x1="567.3" y1="263.2" x2="600" y2="263.2" stroke-width="1.6"/>
<path d="M606,263.2 L597,261.1 L597,265.3 Z" fill="#000" stroke="none"/>
<text class="f" x="554.84" y="272.8" font-size="7.86" textLength="5.04" lengthAdjust="spacingAndGlyphs" style="stroke-width:0.53">1</text>
<text class="f" x="550.07" y="286.4" font-size="11.71" textLength="9.85" lengthAdjust="spacingAndGlyphs" style="stroke-width:0.3">2</text>
<path d="M561.5,270.1 L563.1,266.5 M564.3,270.1 L565.9,266.5" stroke-width="1.6"/>
<line x1="550.3" y1="276.9" x2="582" y2="276.9" stroke-width="1.6"/>
<path d="M588,276.9 L579,274.8 L579,279 Z" fill="#000" stroke="none"/>
<text class="f" x="563.82" y="293.3" font-size="9" textLength="5.67" lengthAdjust="spacingAndGlyphs" style="stroke-width:0.46">1</text>
<text class="f" x="558.79" y="303.5" font-size="10.71" textLength="10.02" lengthAdjust="spacingAndGlyphs" style="stroke-width:0.36">4</text>
<path d="M571,289.6 L572.6,286 M573.8,289.6 L575.4,286" stroke-width="1.6"/>
<line x1="559" y1="294.6" x2="592.5" y2="294.6" stroke-width="1.6"/>
<path d="M598.5,294.6 L589.5,292.5 L589.5,296.7 Z" fill="#000" stroke="none"/>
<text class="f" x="578.84" y="305.6" font-size="8" textLength="5.04" lengthAdjust="spacingAndGlyphs" style="stroke-width:0.52">1</text>
<text class="f" x="573.29" y="317.2" font-size="10.71" textLength="7.82" lengthAdjust="spacingAndGlyphs" style="stroke-width:0.36">8</text>
<path d="M585,303.1 L586.6,299.5 M587.8,303.1 L589.4,299.5" stroke-width="1.6"/>
<line x1="575.5" y1="307.6" x2="600.3" y2="307.6" stroke-width="1.6"/>
<path d="M606.3,307.6 L597.3,305.5 L597.3,309.7 Z" fill="#000" stroke="none"/>
<text class="f" x="564.3" y="331.4" font-size="10.14" textLength="8.2" lengthAdjust="spacingAndGlyphs" style="stroke-width:0.39">5</text>
<text class="f" x="558.77" y="343.3" font-size="11.29" textLength="10.54" lengthAdjust="spacingAndGlyphs" style="stroke-width:0.32">16</text>
<path d="M573.5,326.6 L575.1,323 M576.3,326.6 L577.9,323" stroke-width="1.6"/>
<line x1="559" y1="333" x2="592.5" y2="333" stroke-width="1.6"/>
<path d="M598.5,333 L589.5,330.9 L589.5,335.1 Z" fill="#000" stroke="none"/>
<text class="f" x="550.1" y="353.5" font-size="10.14" textLength="7.4" lengthAdjust="spacingAndGlyphs" style="stroke-width:0.39">9</text>
<text class="f" x="546.75" y="364.6" font-size="12.29" textLength="10.77" lengthAdjust="spacingAndGlyphs" style="stroke-width:0.3">16</text>
<path d="M558,349.1 L559.6,345.5 M560.8,349.1 L562.4,345.5" stroke-width="1.6"/>
<line x1="555.8" y1="355.9" x2="576" y2="355.9" stroke-width="1.6"/>
<path d="M582,355.9 L573,353.8 L573,358 Z" fill="#000" stroke="none"/>
<text class="f" x="550.12" y="378.8" font-size="9" textLength="8.17" lengthAdjust="spacingAndGlyphs" style="stroke-width:0.46">5</text>
<text class="f" x="545.25" y="390" font-size="12.57" textLength="9.88" lengthAdjust="spacingAndGlyphs" style="stroke-width:0.3">8</text>
<path d="M559.5,374.6 L561.1,371 M562.3,374.6 L563.9,371" stroke-width="1.6"/>
<line x1="545.5" y1="382" x2="574" y2="382" stroke-width="1.6"/>
<path d="M580,382 L571,379.9 L571,384.1 Z" fill="#000" stroke="none"/>
<text class="tl" x="579" y="418.5" font-size="16" textLength="65.5" lengthAdjust="spacingAndGlyphs">8 White.</text>
<text class="tl" x="579" y="436" font-size="16" textLength="63" lengthAdjust="spacingAndGlyphs">8 Black.</text>
</g></svg></body></html>
